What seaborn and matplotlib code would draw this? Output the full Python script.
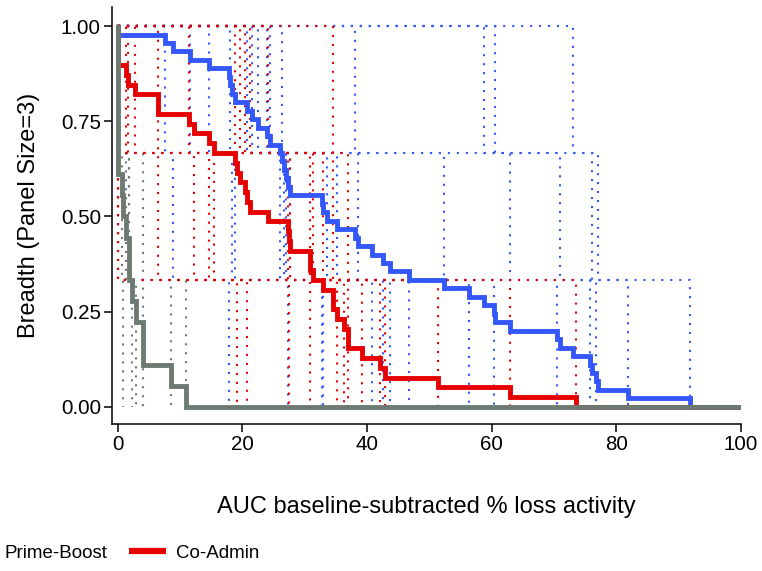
import numpy as np
import pandas as pd
import matplotlib
matplotlib.use("Agg")
import matplotlib.pyplot as plt
from matplotlib.lines import Line2D
import seaborn as sns

# Per-subject values (lowest / middle / highest of the 3 antigens), % loss activity
blue_low = [0, 7.6, 11.6, 14.6, 18.0, 20.7, 21.5, 22.6, 23.9, 24.5, 26.4, 38.1, 58.8, 60.5, 73.1]
blue_mid = [8.9, 18.4, 18.8, 26.1, 26.7, 27.0, 27.7, 33.6, 35.2, 38.5, 52.4, 63.0, 71.0, 76.1, 77.1]
blue_high = [17.8, 27.3, 32.8, 33.0, 40.8, 42.6, 43.7, 46.8, 56.4, 60.3, 70.5, 75.7, 76.7, 81.8, 91.8]

red_low = [0, 0, 1.4, 1.6, 2.8, 6.4, 11.4, 18.8, 19.6, 20.4, 21.2, 24.2, 34.6]
red_mid = [0, 0, 6.4, 12.2, 14.7, 15.4, 27.4, 27.6, 30.9, 31.4, 33.0, 34.6, 36.9]
red_high = [19.2, 20.8, 27.5, 30.9, 35.2, 36.3, 36.9, 39.2, 42.1, 42.9, 51.4, 63.0, 73.6]

gray_low = [0, 0, 0, 0, 0, 0]
gray_mid = [0.1, 0.7, 1.4, 1.8, 1.8, 4.0]
gray_high = [0.9, 2.3, 3.0, 4.0, 8.6, 11.0]

colors = {"Prime-Boost": "#3357fb", "Co-Admin": "#e60000", "Other": "#6d7a72"}
x_max = 100

data = {
    "Prime-Boost": (blue_low, blue_mid, blue_high),
    "Co-Admin": (red_low, red_mid, red_high),
    "Other": (gray_low, gray_mid, gray_high),
}

# individual subject curves
rows = []
for g, (lo, mi, hi) in data.items():
    for i, vals in enumerate(zip(sorted(lo), sorted(mi), sorted(hi))):
        xs = [0] + list(vals)
        ys = [1, 2 / 3, 1 / 3, 0]
        for x, y in zip(xs, ys):
            rows.append({"group": g, "subject": f"{g}_{i}", "x": x, "y": y})
subj = pd.DataFrame(rows)

# mean breadth curve per group
mean_rows = []
for g, (lo, mi, hi) in data.items():
    vals = np.array(lo + mi + hi)
    xs = [0] + sorted(set(vals[vals > 0])) + [x_max]
    mean_rows.append({"group": g, "x": 0, "y": 1.0})
    for x in xs:
        mean_rows.append({"group": g, "x": x, "y": np.mean(vals > x)})
curves = pd.DataFrame(mean_rows)

sns.set_style("ticks")
plt.rcParams["font.family"] = ["Liberation Sans", "DejaVu Sans"]
plt.rcParams["text.color"] = "black"
plt.rcParams["axes.labelcolor"] = "black"

fig = plt.figure(figsize=(7.62, 5.71), dpi=100)
ax = fig.add_axes([112 / 762, 1 - 424 / 571, (741 - 112) / 762, (424 - 7) / 571])

for g in ["Other", "Prime-Boost", "Co-Admin"]:
    sns.lineplot(data=subj[subj.group == g], x="x", y="y", units="subject",
                 estimator=None, sort=False, color=colors[g], lw=1.5,
                 linestyle=(0, (1, 3.3)), drawstyle="steps-post", ax=ax, legend=False)

for g in ["Prime-Boost", "Co-Admin", "Other"]:
    sns.lineplot(data=curves[curves.group == g], x="x", y="y", estimator=None,
                 sort=False, color=colors[g], lw=3.5, drawstyle="steps-post",
                 ax=ax, legend=False, solid_joinstyle="miter")

ax.set_xlim(-0.9, 100)
ax.set_ylim(-0.045, 1.05)
ax.set_xticks([0, 20, 40, 60, 80, 100])
ax.set_yticks([0, 0.25, 0.5, 0.75, 1.0])
ax.set_yticklabels(["0.00", "0.25", "0.50", "0.75", "1.00"])
ax.tick_params(direction="out", length=6, width=1.1, labelsize=14.8, colors="black", pad=2)
for s in ["top", "right"]:
    ax.spines[s].set_visible(False)
for s in ["left", "bottom"]:
    ax.spines[s].set_linewidth(1.1)
    ax.spines[s].set_color("black")
ax.set_xlabel("AUC baseline-subtracted % loss activity", fontsize=17, labelpad=30, color="black")
ax.set_ylabel("Breadth (Panel Size=3)", fontsize=17, labelpad=15, color="black")

# legend: the first key falls off the left edge, as in the original
handles = [Line2D([], [], color=colors["Prime-Boost"], lw=4.5, solid_capstyle="butt"),
           Line2D([], [], color=colors["Co-Admin"], lw=4.5, solid_capstyle="butt")]
fig.legend(handles, ["Prime-Boost", "Co-Admin"], ncol=2, frameon=False,
           loc="center left", bbox_to_anchor=(-42 / 762, 18 / 571), borderpad=0,
           borderaxespad=0, fontsize=13.5, handlelength=1.97, handletextpad=0.53,
           columnspacing=1.15, labelcolor="black")

fig.savefig("out.png", dpi=100)
